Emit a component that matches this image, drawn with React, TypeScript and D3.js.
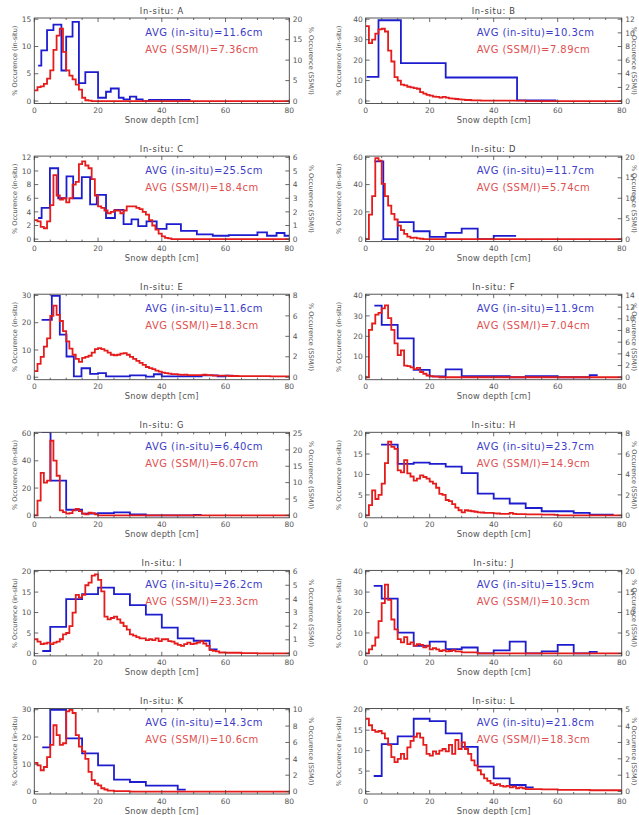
import { useEffect, useRef } from 'react';
import * as d3 from 'd3';

// station ids and the averages written in each panel
const stations = ['A', 'B', 'C', 'D', 'E', 'F', 'G', 'H', 'I', 'J', 'K', 'L'];
const avgInSitu = ['11.6', '10.3', '25.5', '11.7', '11.6', '11.9', '6.40', '23.7', '26.2', '15.9', '14.3', '21.8'];
const avgSsmi = ['7.36', '7.89', '18.4', '5.74', '18.3', '7.04', '6.07', '14.9', '23.3', '10.3', '10.6', '18.3'];

// axis ranges (left = in-situ, right = SSM/I)
const leftMax = [15, 40, 12, 60, 30, 40, 60, 20, 20, 40, 30, 20];
const leftStep = [5, 10, 2, 20, 10, 10, 20, 5, 5, 10, 10, 5];
const rightMax = [20, 12, 6, 20, 8, 14, 25, 8, 6, 20, 10, 5];
const rightStep = [5, 2, 1, 5, 2, 2, 5, 2, 1, 5, 2, 1];

// in-situ histograms: bin edges [cm] and % occurence
const insituEdgesA = [1.2, 2.2, 4, 6, 8.5, 10, 12, 14, 16, 20, 22.5, 24, 26.5, 28, 30, 32, 34, 36, 49];
const insituA = [6.5, 9.3, 13, 14, 5.6, 11.8, 14.5, 3.3, 5.3, 0.6, 1.7, 2.3, 0.6, 0.3, 0.8, 0.3, 0, 0.2];
const insituEdgesB = [0.3, 4, 11, 25, 47.3, 59.6];
const insituB = [11.8, 39.5, 18.5, 11.5, 0.3];
const insituEdgesC = [1.2, 2.3, 4.9, 7.5, 10.1, 12.2, 14.9, 17.5, 19.6, 22.5, 25.3, 28, 30.5, 32.6, 35.2, 38.4, 41.5, 46, 51, 56, 61, 70, 73, 76, 78.5, 80];
const insituC = [3.1, 4.6, 10.4, 6.0, 9.2, 6.0, 9.1, 5.1, 6.5, 3.1, 4.3, 2.2, 2.9, 1.9, 2.6, 1.5, 2.2, 1.2, 0.7, 0.5, 0.6, 1.0, 0.5, 0.9, 0.5];
const insituEdgesD = [2.7, 5.5, 10, 15, 20, 25, 30, 35, 40, 47];
const insituD = [57, 0, 12.5, 5.8, 1.7, 4.6, 7.7, 0, 2.4];
const insituEdgesE = [2.3, 5.5, 8, 10.1, 12.4, 14.8, 17.5, 20, 22.5, 30, 35, 37.5, 40, 52.5, 57.5, 60, 62.5];
const insituE = [21, 29.8, 15.6, 7.6, 0.3, 3.3, 1.2, 1.5, 0.3, 0.7, 0.2, 1.1, 0.3, 0.7, 0.3, 0.6];
const insituEdgesF = [2.7, 5, 10, 15, 20, 25, 30, 45, 50, 60, 70, 72.5];
const insituF = [35, 25.6, 19, 3.6, 0.4, 3.8, 0.5, 0, 0.5, 0, 1];
const insituEdgesG = [2.3, 5.1, 10, 15, 20, 25, 30, 35, 50, 52.5];
const insituG = [61, 25.5, 4.1, 1.2, 1.6, 2.2, 0.7, 0, 0.4];
const insituEdgesH = [4.8, 10, 15, 20, 25, 30, 35, 40, 45, 50, 55, 65, 70, 77.5];
const insituH = [17.3, 12.6, 12.9, 12.6, 11.9, 10.3, 5.3, 4.1, 2.9, 1.8, 1.0, 0.6, 0.2];
const insituEdgesI = [2.5, 5, 10, 15, 20, 25, 30, 35, 40, 45, 50, 55, 57.5];
const insituI = [0.6, 6.5, 13.3, 14.5, 16.1, 14.5, 11.8, 9.5, 6.3, 3.7, 3.1, 1.0];
const insituEdgesJ = [2.5, 5, 10, 15, 20, 25, 30, 35, 40, 45, 50, 55, 60, 65, 70, 72.5];
const insituJ = [33, 26.8, 10.2, 3.7, 5.8, 2.1, 2.9, 0, 1.5, 5.8, 0, 1.0, 4.2, 0, 0.8];
const insituEdgesK = [2.5, 5, 10, 15, 20, 25, 30, 35, 45, 47.5];
const insituK = [16.2, 30, 19.5, 14, 9.6, 4.4, 3.5, 2.2, 0.7];
const insituEdgesL = [2.5, 5, 10, 15, 20, 25, 30, 35, 40, 45, 50, 52.5];
const insituL = [3.8, 11.6, 13.5, 17.8, 17.2, 14.2, 10.9, 6.1, 3.2, 1.6, 1.0];

// SSM/I histograms, 1 cm bins starting at 0 cm
const ssmiA = [2.6, 3.4, 3.6, 4.2, 5.5, 7.5, 12.5, 16, 17.7, 12, 7.5, 6.2, 5.3, 4, 2.8, 0.8, 0.2, 0.1];
const ssmiB = [11, 8.5, 9, 9.9, 10.5, 10.6, 10.2, 7.4, 5.8, 3.5, 3.0, 2.4, 2.3, 2.1, 2.0, 1.9, 1.8, 1.3, 1.1, 0.9, 0.8, 0.65, 0.6, 0.5, 0.6, 0.5, 0.4, 0.35, 0.3, 0.25, 0.2, 0.15, 0.15, 0.1, 0.1, 0.1, 0.05, 0.05, 0.05, 0.05, 0.05, 0.05, 0.05, 0.05, 0.05, 0.05, 0.05, 0.05, 0.05, 0.05];
const ssmiC = [1.4, 1.3, 0.9, 0.8, 1.3, 2.5, 4.7, 3.2, 2.9, 3.0, 2.7, 3.0, 4.0, 4.2, 5.5, 5.7, 5.4, 5.2, 4.4, 3.2, 2.4, 2.3, 2.1, 1.9, 2.0, 2.1, 2.1, 1.9, 2.1, 2.4, 2.4, 2.4, 2.3, 2.2, 2.0, 1.8, 1.4, 1.0, 0.7, 0.4, 0.2, 0.1, 0.05];
const ssmiD = [0, 6, 10.5, 19.8, 19.2, 13.5, 10.5, 8.2, 6.2, 4.8, 3.3, 2.2, 1.3, 0.6, 0.3, 0.35, 0.2, 0.1];
const ssmiE = [0.6, 1.3, 2.0, 3.0, 3.8, 6.0, 7.0, 6.1, 5.5, 4.5, 3.5, 2.8, 2.2, 1.8, 1.5, 1.9, 2.0, 2.1, 2.4, 2.75, 2.85, 2.75, 2.6, 2.4, 2.2, 2.15, 2.2, 2.3, 2.35, 2.2, 2.0, 1.8, 1.6, 1.4, 1.2, 1.0, 0.9, 0.8, 0.65, 0.55, 0.45, 0.4, 0.35, 0.3, 0.3, 0.25, 0.23, 0.25, 0.2, 0.2, 0.2, 0.2, 0.2, 0.25, 0.2, 0.2, 0.15, 0.15, 0.15, 0.15, 0.15, 0.12, 0.12, 0.12, 0.1, 0.1, 0.1, 0.1, 0.1, 0.1, 0.1, 0.1, 0.1, 0.1, 0.08, 0.08, 0.08, 0.08, 0.08, 0.08];
const ssmiF = [0, 8.1, 9.2, 10.7, 11, 11.8, 12.3, 10.1, 8.1, 5.8, 3.8, 4.6, 2.0, 1.9, 1.7, 1.4, 1.6, 0.9, 0.6, 0.3, 0.2, 0.1, 0.1];
const ssmiG = [0, 4.5, 13, 10, 10.6, 22.8, 16.7, 12.1, 1.5, 1.0, 0.5, 0.7, 1.5, 2.0, 1.3, 0.5, 0.3, 0.8, 0.7, 0.3];
const ssmiH = [0, 1.0, 2.45, 1.6, 2.0, 3.1, 5.1, 7.2, 6.7, 6.5, 4.4, 4.2, 5.4, 4.1, 3.8, 3.4, 3.6, 3.9, 3.75, 3.6, 3.3, 3.1, 2.7, 2.1, 2.0, 1.5, 1.4, 1.1, 0.75, 0.5, 0.3, 0.5, 0.45, 0.4, 0.35, 0.3, 0.28, 0.25, 0.25, 0.25, 0.2, 0.18, 0.15, 0.15, 0.15, 0.25, 0.15, 0.12, 0.12, 0.12, 0.1, 0.1, 0.1, 0.1, 0.1, 0.08, 0.08, 0.08, 0.08, 0.05];
const ssmiI = [1.04, 0.87, 0.68, 0.73, 0.8, 0.68, 0.8, 0.87, 1.04, 1.4, 1.5, 2.0, 3.0, 4.3, 4.1, 4.3, 5.0, 5.2, 5.7, 5.8, 5.4, 4.55, 2.7, 2.5, 2.6, 2.7, 2.5, 2.25, 2.0, 1.75, 1.4, 1.3, 1.2, 1.1, 1.1, 0.97, 1.04, 0.97, 1.1, 0.9, 1.04, 1.04, 0.9, 0.87, 0.73, 0.63, 0.55, 0.68, 0.8, 0.68, 0.73, 0.8, 0.9, 0.73, 0.55, 0.24, 0.19, 0.15, 0.07, 0.07, 0.05, 0.05, 0.05, 0.05, 0.05, 0.03, 0.03, 0.03, 0.03, 0.03];
const ssmiJ = [0, 1.0, 1.9, 3.9, 7.9, 12.3, 16.8, 13.1, 8.3, 5.9, 3.5, 2.7, 4.0, 2.3, 2.7, 1.9, 2.3, 2.1, 1.5, 1.9, 1.0, 1.3, 1.0, 0.6, 0.8, 0.5, 0.6, 0.8, 0.5, 0.5, 0.25, 0.25, 0.25, 0.25, 0.25];
const ssmiK = [3.5, 3.2, 2.6, 3.0, 4.2, 5.7, 8.1, 6.9, 5.7, 5.9, 9.8, 10, 9.6, 6.9, 5.5, 4.9, 4.0, 2.4, 1.4, 0.95, 0.75, 0.4, 0.25, 0.12, 0.12, 0.05, 0.05, 0.05, 0.05, 0.05];
const ssmiL = [4.45, 4.05, 3.75, 3.65, 3.7, 3.55, 3.25, 2.85, 2.1, 1.8, 2.0, 2.3, 2.0, 2.7, 3.1, 3.35, 3.55, 3.3, 2.85, 2.3, 2.2, 2.45, 2.3, 2.5, 2.6, 2.45, 2.85, 2.3, 3.15, 2.6, 3.0, 2.6, 2.3, 1.9, 1.6, 1.3, 1.05, 0.8, 0.65, 0.5, 0.4, 0.45, 0.35, 0.3, 0.35, 0.25, 0.3, 0.2, 0.25, 0.2, 0.15, 0.15, 0.15, 0.15, 0.15, 0.13, 0.13, 0.13, 0.13, 0.13, 0.1, 0.1, 0.1, 0.1, 0.1, 0.1, 0.1, 0.1, 0.1, 0.1, 0.08, 0.08, 0.08, 0.08, 0.08, 0.08, 0.08, 0.08, 0.08, 0.08];

const insituEdges = [insituEdgesA, insituEdgesB, insituEdgesC, insituEdgesD, insituEdgesE, insituEdgesF, insituEdgesG, insituEdgesH, insituEdgesI, insituEdgesJ, insituEdgesK, insituEdgesL];
const insituValues = [insituA, insituB, insituC, insituD, insituE, insituF, insituG, insituH, insituI, insituJ, insituK, insituL];
const ssmiValues = [ssmiA, ssmiB, ssmiC, ssmiD, ssmiE, ssmiF, ssmiG, ssmiH, ssmiI, ssmiJ, ssmiK, ssmiL];

const xTicks = [0, 20, 40, 60, 80];

const FONT = '"DejaVu Sans", sans-serif';
const BLUE = '#1d1dcf';
const RED = '#e61c1c';

export default function App() {
  const svgRef = useRef<SVGSVGElement>(null);

  useEffect(() => {
    if (!svgRef.current) return;
    const svg = d3.select(svgRef.current);
    svg.selectAll('*').remove();

    svg.append('rect').attr('width', 639).attr('height', 815).attr('fill', '#fff');

    const colX = [34.3, 365.7];
    const colW = [255, 256];
    const yLabelRightOffset = [22, 13];
    const top0 = 18;
    const rowGap = 138.1;
    const h = 85.5;

    const line = d3
      .line<[number, number]>()
      .curve(d3.curveStepAfter);

    stations.forEach((id, i) => {
      const col = i % 2;
      const row = Math.floor(i / 2);
      const w = colW[col];
      const g = svg
        .append('g')
        .attr('transform', `translate(${colX[col]},${top0 + row * rowGap})`)
        .style('font-family', FONT);

      const x = d3.scaleLinear().domain([0, 80]).range([0, w]);
      const yL = d3
        .scaleLinear()
        .domain([-0.03 * leftMax[i], leftMax[i] * 1.015])
        .range([h, 0]);
      const yR = d3
        .scaleLinear()
        .domain([-0.03 * rightMax[i], rightMax[i] * 1.015])
        .range([h, 0]);

      const clipId = `clip-${id}`;
      g.append('clipPath').attr('id', clipId).append('rect').attr('width', w).attr('height', h);

      // in-situ step line
      const edges = insituEdges[i];
      const vals = insituValues[i];
      const bluePts: [number, number][] = edges.map((e, k) => [
        x(e),
        yL(vals[Math.min(k, vals.length - 1)]),
      ]);
      g.append('path')
        .attr('clip-path', `url(#${clipId})`)
        .attr('d', line(bluePts))
        .attr('fill', 'none')
        .attr('stroke', BLUE)
        .attr('stroke-width', 1.8);

      // SSM/I step line
      const ssmi = ssmiValues[i];
      const redPts: [number, number][] = ssmi.map((v, k) => [x(k), yR(v)]);
      redPts.push([x(ssmi.length), yR(0)]);
      redPts.push([x(80), yR(0)]);
      g.append('path')
        .attr('clip-path', `url(#${clipId})`)
        .attr('d', line(redPts))
        .attr('fill', 'none')
        .attr('stroke', RED)
        .attr('stroke-width', 1.8);

      // box
      g.append('rect')
        .attr('width', w)
        .attr('height', h)
        .attr('fill', 'none')
        .attr('stroke', '#444')
        .attr('stroke-width', 0.9);

      // x ticks
      d3.range(0, 81, 5).forEach((t) => {
        const len = t % 20 === 0 ? 4 : 2;
        g.append('line').attr('x1', x(t)).attr('x2', x(t)).attr('y1', h).attr('y2', h - len).attr('stroke', '#444').attr('stroke-width', 0.8);
        g.append('line').attr('x1', x(t)).attr('x2', x(t)).attr('y1', 0).attr('y2', len).attr('stroke', '#444').attr('stroke-width', 0.8);
      });
      xTicks.forEach((t) => {
        g.append('text')
          .attr('x', x(t))
          .attr('y', h + 9.5)
          .attr('text-anchor', 'middle')
          .style('font-size', '7.5px')
          .attr('fill', '#555')
          .text(t);
      });
      g.append('text')
        .attr('x', w / 2)
        .attr('y', h + 19.5)
        .attr('text-anchor', 'middle')
        .style('font-size', '8.3px')
        .style('letter-spacing', '0.2px')
        .attr('fill', '#555')
        .text('Snow depth [cm]');

      // left axis
      d3.range(0, leftMax[i] + 1e-6, leftStep[i]).forEach((t) => {
        g.append('line').attr('x1', 0).attr('x2', 4).attr('y1', yL(t)).attr('y2', yL(t)).attr('stroke', '#444').attr('stroke-width', 0.8);
        g.append('text')
          .attr('x', -3)
          .attr('y', yL(t) + 2.7)
          .attr('text-anchor', 'end')
          .style('font-size', '7.5px')
          .attr('fill', '#555')
          .text(t);
      });
      // right axis
      d3.range(0, rightMax[i] + 1e-6, rightStep[i]).forEach((t) => {
        g.append('line').attr('x1', w).attr('x2', w - 4).attr('y1', yR(t)).attr('y2', yR(t)).attr('stroke', '#444').attr('stroke-width', 0.8);
        g.append('text')
          .attr('x', w + 3.5)
          .attr('y', yR(t) + 2.7)
          .attr('text-anchor', 'start')
          .style('font-size', '7.5px')
          .attr('fill', '#555')
          .text(t);
      });

      g.append('text')
        .attr('transform', `translate(${col === 0 ? -20 : -27},${h / 2}) rotate(-90)`)
        .attr('text-anchor', 'middle')
        .attr('dy', '0.35em')
        .style('font-size', '6.5px')
        .attr('fill', '#555')
        .text('% Occurence (in-situ)');
      g.append('text')
        .attr('transform', `translate(${w + yLabelRightOffset[col]},${h / 2}) rotate(90)`)
        .attr('text-anchor', 'middle')
        .attr('dy', '0.35em')
        .style('font-size', '6.5px')
        .attr('fill', '#555')
        .text('% Occurence (SSM/I)');

      // title
      g.append('text')
        .attr('x', w / 2)
        .attr('y', -4.5)
        .attr('text-anchor', 'middle')
        .style('font-size', '8.3px')
        .style('letter-spacing', '0.7px')
        .attr('fill', '#444')
        .text(`In-situ: ${id}`);

      // averages
      g.append('text')
        .attr('x', 111)
        .attr('y', 17.5)
        .style('font-size', '10px')
        .style('letter-spacing', '0.45px')
        .attr('fill', '#3c3cc8')
        .text(`AVG (in-situ)=${avgInSitu[i]}cm`);
      g.append('text')
        .attr('x', 111)
        .attr('y', 34.5)
        .style('font-size', '10px')
        .style('letter-spacing', '0.45px')
        .attr('fill', '#e05050')
        .text(`AVG (SSM/I)=${avgSsmi[i]}cm`);
    });
  }, []);

  return (
    <svg
      ref={svgRef}
      width={639}
      height={815}
      style={{ position: 'absolute', left: 0, top: 0 }}
    />
  );
}
